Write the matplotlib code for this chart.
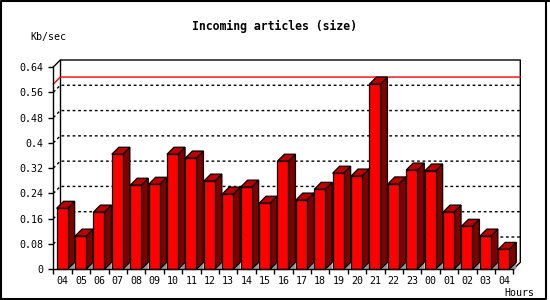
import matplotlib
matplotlib.use("Agg")
import matplotlib.pyplot as plt
from matplotlib.patches import Polygon, Rectangle
from matplotlib.lines import Line2D

hours = ["04", "05", "06", "07", "08", "09", "10", "11", "12", "13", "14", "15", "16",
         "17", "18", "19", "20", "21", "22", "23", "00", "01", "02", "03", "04"]
values = [0.193, 0.105, 0.181, 0.364, 0.266, 0.269, 0.364, 0.352, 0.279, 0.238, 0.260,
          0.209, 0.342, 0.219, 0.253, 0.304, 0.295, 0.586, 0.270, 0.314, 0.311, 0.181,
          0.136, 0.105, 0.063]
yticks = [0, 0.08, 0.16, 0.24, 0.32, 0.4, 0.48, 0.56, 0.64]
ytick_labels = ["0", "0.08", "0.16", "0.24", "0.32", "0.4", "0.48", "0.56", "0.64"]
title = "Incoming articles (size)"
ylabel = "Kb/sec"
xlabel = "Hours"

W, H = 550, 300
fig = plt.figure(figsize=(W / 100, H / 100), dpi=100)
fig.patch.set_facecolor("white")

# front plane of the plot in pixels
L, R, B, T = 53.3, 513.3, 269.3, 67.0
ax = fig.add_axes([L / W, (H - B) / H, (R - L) / W, (B - T) / H])
ax.set_facecolor("none")
n = len(values)
ymax = 0.64
ax.set_xlim(0, n)
ax.set_ylim(0, ymax)

# 3D depth in data units (7 px)
DEPTH = 7.0
dx = DEPTH * n / (R - L)
dy = DEPTH * ymax / (B - T)

mono = "DejaVu Sans Mono"
fs = 7.2

for s in ["top", "right"]:
    ax.spines[s].set_visible(False)
for s in ["left", "bottom"]:
    ax.spines[s].set_linewidth(1.0)
    ax.spines[s].set_color("black")
    ax.spines[s].set_zorder(5)

ax.set_yticks(yticks)
ax.set_yticklabels(ytick_labels, fontfamily=mono, fontsize=fs)
ax.tick_params(axis="y", length=3.5, width=1, pad=3.6, colors="black")
ax.set_xticks(range(n + 1))
ax.set_xticklabels([""] * (n + 1))
ax.tick_params(axis="x", which="major", length=3.5, width=1)
ax.set_xticks([i + 0.5 for i in range(n)], minor=True)
ax.set_xticklabels(hours, minor=True, fontfamily=mono, fontsize=fs)
ax.tick_params(axis="x", which="minor", length=0, pad=4.5)

kw = dict(clip_on=False)
# back box
ax.add_line(Line2D([0, dx, n + dx, n + dx, n], [ymax, ymax + dy, ymax + dy, dy, 0],
                   color="black", lw=1.0, zorder=1, **kw))
ax.add_line(Line2D([dx, dx], [dy, ymax + dy], color="black", lw=1.0, zorder=1, **kw))

# dotted grid on back wall with slanted part
for v in yticks[1:-1]:
    ax.add_line(Line2D([0, dx, n + dx], [v, v + dy, v + dy], color="black", lw=1.0,
                       linestyle=(0, (2, 2)), zorder=1, **kw))

# max level line in red
vmax = max(values)
ax.add_line(Line2D([0, dx, n + dx], [vmax, vmax + dy, vmax + dy], color="#ff0000",
                   lw=1.0, zorder=1.5, **kw))

# bars
bw = 0.6
off = 0.18
for i, v in enumerate(values):
    x0 = i + off
    x1 = x0 + bw
    z = 2 + i * 0.01
    ax.add_patch(Polygon([(x1, 0), (x1 + dx, dy), (x1 + dx, 0)], closed=True,
                         facecolor="#999999", edgecolor="none", zorder=z, **kw))
    ax.add_patch(Polygon([(x1, 0), (x1 + dx, dy), (x1 + dx, v + dy), (x1, v)], closed=True,
                         facecolor="#800000", edgecolor="black", lw=0.9, zorder=z, **kw))
    ax.add_patch(Polygon([(x0, v), (x0 + dx, v + dy), (x1 + dx, v + dy), (x1, v)], closed=True,
                         facecolor="#c00000", edgecolor="black", lw=0.9, zorder=z, **kw))
    ax.add_patch(Rectangle((x0, 0), bw, v, facecolor="#ff0000", edgecolor="black",
                           lw=0.9, zorder=z + 0.001, **kw))

fig.text(274 / W, 1 - 26.5 / H, title, ha="center", va="center", fontfamily=mono,
         fontweight="bold", fontsize=8.3)
fig.text(30 / W, 1 - 37 / H, ylabel, ha="left", va="center", fontfamily=mono, fontsize=fs)
fig.text(534 / W, 1 - 292.5 / H, xlabel, ha="right", va="center", fontfamily=mono, fontsize=fs)

fx0, fx1 = 0.8 / W, 546 / W
fy0, fy1 = 1 - 298.5 / H, 1 - 0.8 / H
fig.add_artist(Line2D([fx0, fx0, fx1, fx1, fx0], [fy0, fy1, fy1, fy0, fy0],
                      transform=fig.transFigure, color="black", lw=1.5))
fig.add_artist(Line2D([fx1, 1], [fy1, fy1], transform=fig.transFigure, color="black", lw=1.5))

fig.savefig("out.png", dpi=100)
